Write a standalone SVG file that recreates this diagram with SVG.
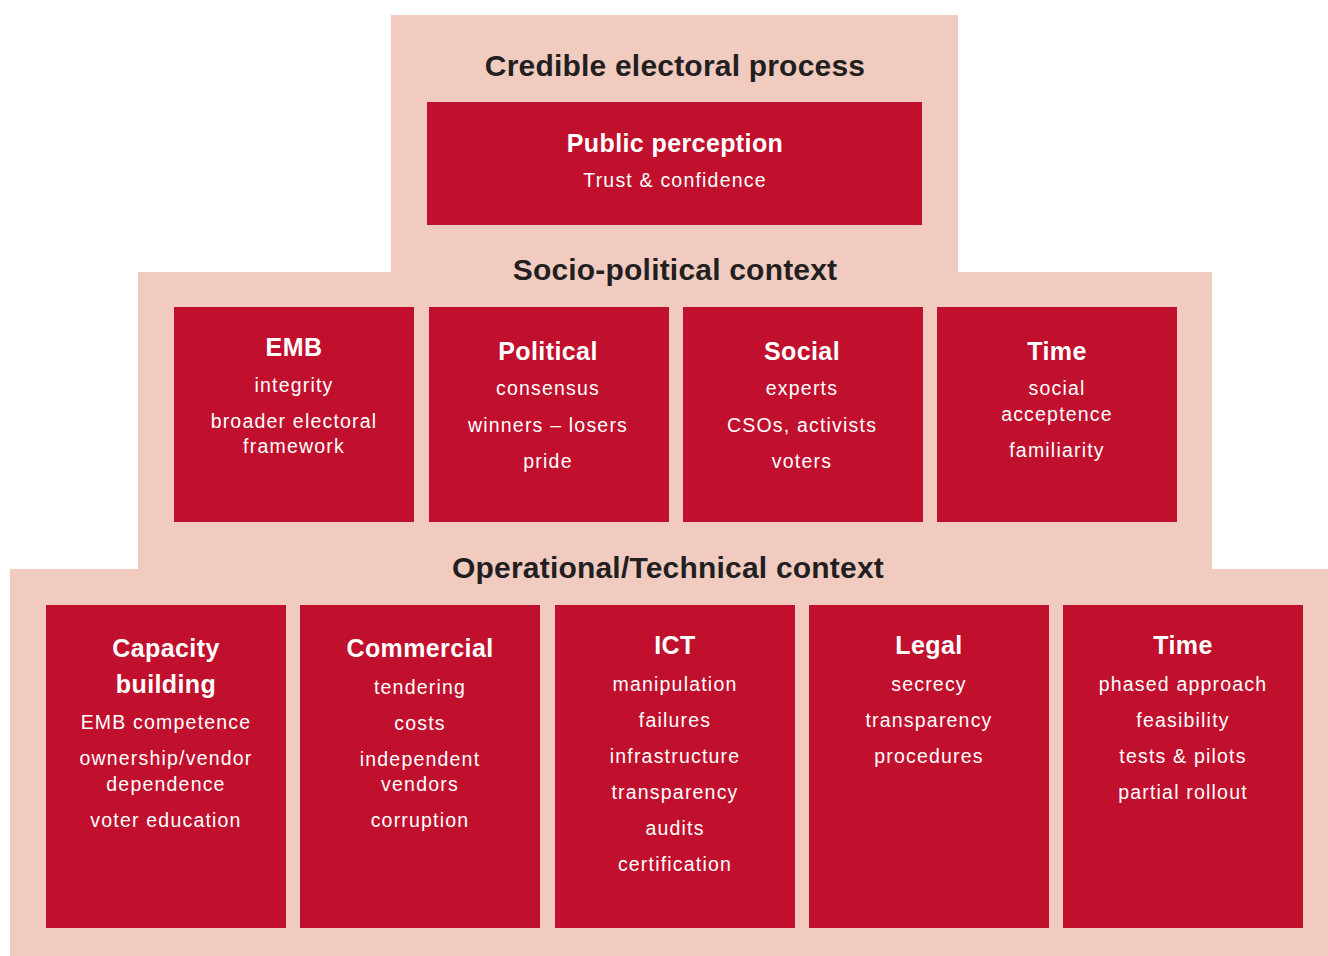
<svg xmlns="http://www.w3.org/2000/svg" width="1328" height="956" viewBox="0 0 1328 956">
<style>
.bg{fill:#F1CBC0}
.box{fill:#C1102E}
.h{font-family:"Liberation Sans",Arial,sans-serif;font-weight:bold;font-size:30px;fill:#231F20;text-anchor:middle;letter-spacing:0.2px}
.t{font-family:"Liberation Sans",Arial,sans-serif;font-weight:bold;font-size:25px;fill:#FFFFFF;text-anchor:middle;letter-spacing:0.4px}
.s{font-family:"Liberation Sans",Arial,sans-serif;font-size:19.5px;fill:#FFFFFF;text-anchor:middle;letter-spacing:1.2px}
</style>
<rect width="1328" height="956" fill="#FFFFFF"/>
<g id="background">
<rect class="bg" x="391" y="15" width="567" height="258"/>
<rect class="bg" x="138" y="272" width="1074" height="298"/>
<rect class="bg" x="10" y="569" width="1318" height="387"/>
</g>
<g id="headings">
<text class="h" x="675" y="76">Credible electoral process</text>
<text class="h" x="675" y="280">Socio-political context</text>
<text class="h" x="668" y="578">Operational/Technical context</text>
</g>
<g id="public-perception">
<rect class="box" x="427" y="102" width="495" height="123"/>
<text class="t" x="675" y="152">Public perception</text>
<text class="s" x="675" y="187">Trust &amp; confidence</text>
</g>
<g id="emb">
<rect class="box" x="174" y="307" width="240" height="215"/>
<text class="t" x="294" y="356">EMB</text>
<text class="s" x="294" y="392">integrity</text>
<text class="s" x="294" y="428">broader electoral</text>
<text class="s" x="294" y="453">framework</text>
</g>
<g id="political">
<rect class="box" x="429" y="307" width="240" height="215"/>
<text class="t" x="548" y="360">Political</text>
<text class="s" x="548" y="395">consensus</text>
<text class="s" x="548" y="432">winners – losers</text>
<text class="s" x="548" y="468">pride</text>
</g>
<g id="social">
<rect class="box" x="683" y="307" width="240" height="215"/>
<text class="t" x="802" y="360">Social</text>
<text class="s" x="802" y="395">experts</text>
<text class="s" x="802" y="432">CSOs, activists</text>
<text class="s" x="802" y="468">voters</text>
</g>
<g id="time-social">
<rect class="box" x="937" y="307" width="240" height="215"/>
<text class="t" x="1057" y="360">Time</text>
<text class="s" x="1057" y="395">social</text>
<text class="s" x="1057" y="421">acceptence</text>
<text class="s" x="1057" y="457">familiarity</text>
</g>
<g id="capacity-building">
<rect class="box" x="46" y="605" width="240" height="323"/>
<text class="t" x="166" y="657">Capacity</text>
<text class="t" x="166" y="693">building</text>
<text class="s" x="166" y="729">EMB competence</text>
<text class="s" x="166" y="765">ownership/vendor</text>
<text class="s" x="166" y="791">dependence</text>
<text class="s" x="166" y="827">voter education</text>
</g>
<g id="commercial">
<rect class="box" x="300" y="605" width="240" height="323"/>
<text class="t" x="420" y="657">Commercial</text>
<text class="s" x="420" y="694">tendering</text>
<text class="s" x="420" y="730">costs</text>
<text class="s" x="420" y="766">independent</text>
<text class="s" x="420" y="791">vendors</text>
<text class="s" x="420" y="827">corruption</text>
</g>
<g id="ict">
<rect class="box" x="555" y="605" width="240" height="323"/>
<text class="t" x="675" y="654">ICT</text>
<text class="s" x="675" y="691">manipulation</text>
<text class="s" x="675" y="727">failures</text>
<text class="s" x="675" y="763">infrastructure</text>
<text class="s" x="675" y="799">transparency</text>
<text class="s" x="675" y="835">audits</text>
<text class="s" x="675" y="871">certification</text>
</g>
<g id="legal">
<rect class="box" x="809" y="605" width="240" height="323"/>
<text class="t" x="929" y="654">Legal</text>
<text class="s" x="929" y="691">secrecy</text>
<text class="s" x="929" y="727">transparency</text>
<text class="s" x="929" y="763">procedures</text>
</g>
<g id="time-operational">
<rect class="box" x="1063" y="605" width="240" height="323"/>
<text class="t" x="1183" y="654">Time</text>
<text class="s" x="1183" y="691">phased approach</text>
<text class="s" x="1183" y="727">feasibility</text>
<text class="s" x="1183" y="763">tests &amp; pilots</text>
<text class="s" x="1183" y="799">partial rollout</text>
</g>
<g id="connectors"></g>
</svg>
